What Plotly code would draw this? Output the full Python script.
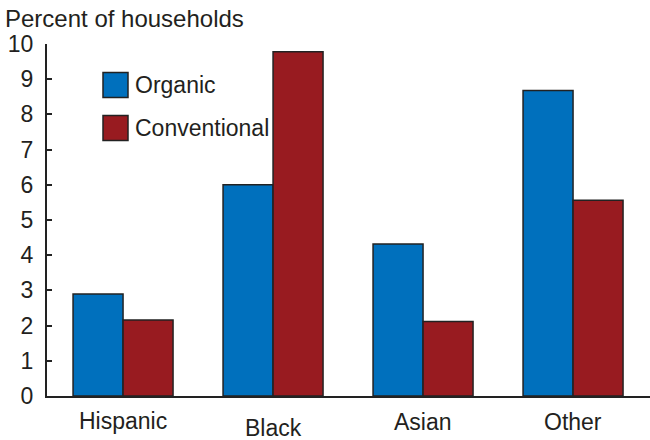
import plotly.graph_objects as go

categories = ["Hispanic", "Black", "Asian", "Other"]
organic = [2.9, 6.0, 4.32, 8.68]
conventional = [2.16, 9.78, 2.12, 5.56]
y_ticks = list(range(0, 11))
series_names = ["Organic", "Conventional"]

BLUE = "#0070bd"
RED = "#981b20"
EDGE = "#222222"
TXT = "#231f20"
FONT = "Liberation Sans, Arial, sans-serif"
FS = 23

W, H = 650, 440
L, R, T, B = 47, 0, 44, 44
PW, PH = W - L - R, H - T - B

def px(x):
    return (x - L) / PW

def py(y):
    return (H - B - y) / PH

fig = go.Figure()
fig.add_trace(go.Bar(x=categories, y=organic, name=series_names[0],
                     marker=dict(color=BLUE, line=dict(color=EDGE, width=1.5)),
                     showlegend=False))
fig.add_trace(go.Bar(x=categories, y=conventional, name=series_names[1],
                     marker=dict(color=RED, line=dict(color=EDGE, width=1.5)),
                     showlegend=False))

fig.update_layout(
    width=W, height=H,
    margin=dict(l=L, r=R, t=T, b=B),
    barmode="group", bargap=1/3, bargroupgap=0,
    plot_bgcolor="white", paper_bgcolor="white",
    font=dict(family=FONT, size=FS, color=TXT),
    xaxis=dict(range=[-0.507, 3.513], showticklabels=False, ticks="",
               showline=True, linecolor=EDGE, linewidth=2, showgrid=False,
               zeroline=False),
    yaxis=dict(range=[0, 10], tickvals=y_ticks, ticks="inside", ticklen=5,
               tickwidth=1.5, tickcolor=EDGE, showline=True, linecolor=EDGE,
               linewidth=2, showgrid=False, zeroline=False,
               tickfont=dict(size=FS, family=FONT, color=TXT),
               ticklabelstandoff=7),
)

# axis title
fig.add_annotation(text="Percent of households", xref="paper", yref="paper",
                   x=px(3), y=py(19), xanchor="left", yanchor="middle",
                   showarrow=False, font=dict(size=24))

# category labels
label_y = [421, 428, 422, 422]
for cat, ly in zip(categories, label_y):
    fig.add_annotation(text=cat, x=cat, xref="x", yref="paper", y=py(ly),
                       xanchor="center", yanchor="middle", showarrow=False,
                       font=dict(size=FS))

# legend drawn manually with larger swatches
legend_rows = [(series_names[0], BLUE, 85), (series_names[1], RED, 128)]
for name, col, cy in legend_rows:
    fig.add_shape(type="rect", xref="paper", yref="paper",
                  x0=px(103), x1=px(128), y0=py(cy - 12.5), y1=py(cy + 12.5),
                  fillcolor=col, line=dict(color=EDGE, width=1.5))
    fig.add_annotation(text=name, xref="paper", yref="paper", x=px(133), y=py(cy),
                       xanchor="left", yanchor="middle", showarrow=False,
                       font=dict(size=FS))

fig.write_html("out.html")
